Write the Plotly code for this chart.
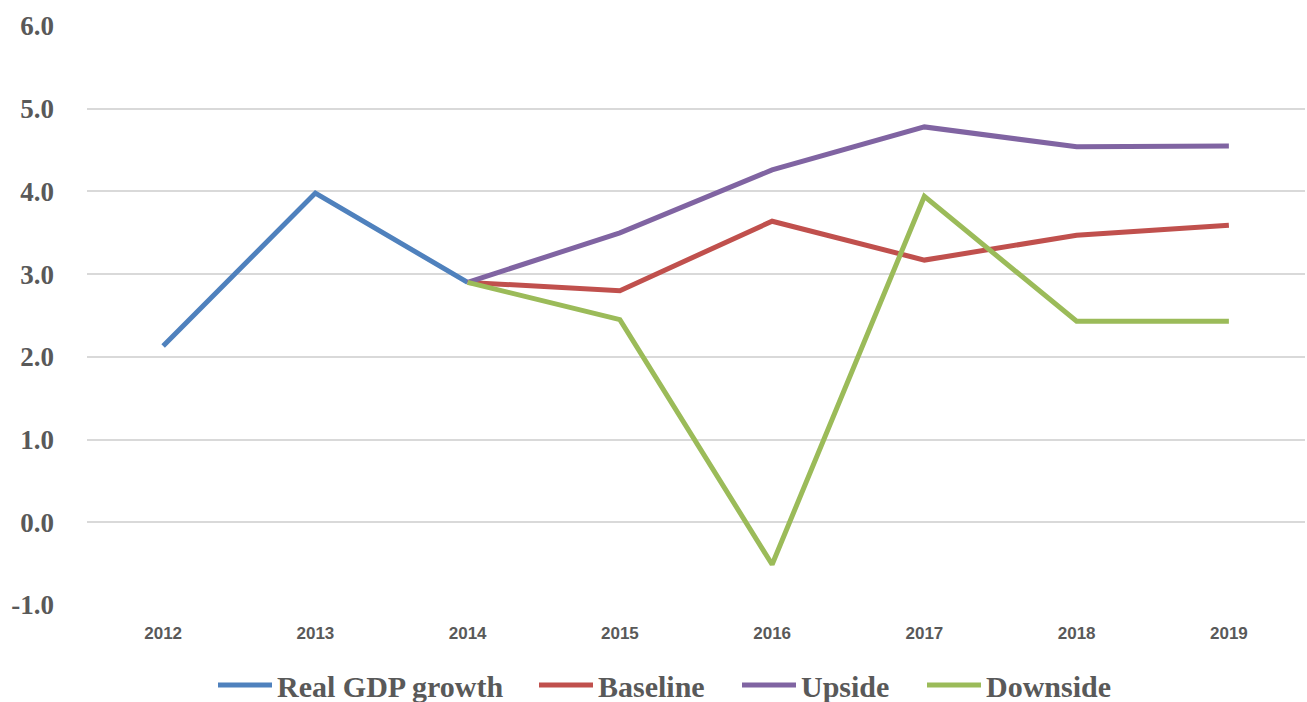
import plotly.graph_objects as go

years = ["2012", "2013", "2014", "2015", "2016", "2017", "2018", "2019"]
real_gdp = [2.13, 3.98, 2.90, None, None, None, None, None]
baseline = [None, None, 2.90, 2.80, 3.64, 3.17, 3.47, 3.59]
upside = [None, None, 2.90, 3.50, 4.26, 4.78, 4.54, 4.55]
downside = [None, None, 2.90, 2.45, -0.51, 3.94, 2.43, 2.43]
y_ticks = [-1, 0, 1, 2, 3, 4, 5, 6]
y_labels = ["-1.0", "0.0", "1.0", "2.0", "3.0", "4.0", "5.0", "6.0"]

series = [
    ("Real GDP growth", real_gdp, "#4F81BD"),
    ("Baseline", baseline, "#C0504D"),
    ("Upside", upside, "#8064A2"),
    ("Downside", downside, "#9BBB59"),
]
# left edge (px) of each legend entry's line sample
legend_left_px = [218, 539, 742, 927]
legend_names = ["legend", "legend2", "legend3", "legend4"]

W, H = 1307, 702
serif = "Liberation Serif, Times New Roman, serif"

fig = go.Figure()
for (name, vals, col), lg in zip(series, legend_names):
    fig.add_trace(go.Scatter(
        x=years, y=vals, name=name, mode="lines",
        line=dict(color=col, width=5), connectgaps=False,
        legend=lg,
    ))

legend_style = dict(
    orientation="h", xref="container", yref="container",
    xanchor="left", yanchor="middle", y=(H - 685) / H,
    font=dict(family=serif, size=30, color="#595959", weight="bold"),
    itemwidth=54, bgcolor="rgba(0,0,0,0)", borderwidth=0,
)
legends = {}
for lg, px in zip(legend_names, legend_left_px):
    legends[lg] = dict(legend_style, x=(px - 5) / W)

fig.update_layout(
    width=W, height=H,
    margin=dict(l=87, r=2, t=26, b=97),
    paper_bgcolor="white", plot_bgcolor="white",
    font=dict(family=serif, color="#595959"),
    showlegend=True,
    xaxis=dict(
        type="category", range=[-0.5, 7.5],
        showgrid=False, zeroline=False, showline=False,
        ticks="", ticklabelstandoff=16,
        tickfont=dict(family="Liberation Sans, Arial, sans-serif", size=17, color="#595959", weight="bold"),
    ),
    yaxis=dict(
        range=[-1, 6], tickmode="array", tickvals=y_ticks, ticktext=y_labels,
        showgrid=True, gridcolor="#D9D9D9", gridwidth=2,
        zeroline=False, showline=False, ticks="",
        ticklabelstandoff=32,
        tickfont=dict(family=serif, size=27, color="#595959", weight="bold"),
    ),
    **legends,
)

fig.write_html("out.html")
